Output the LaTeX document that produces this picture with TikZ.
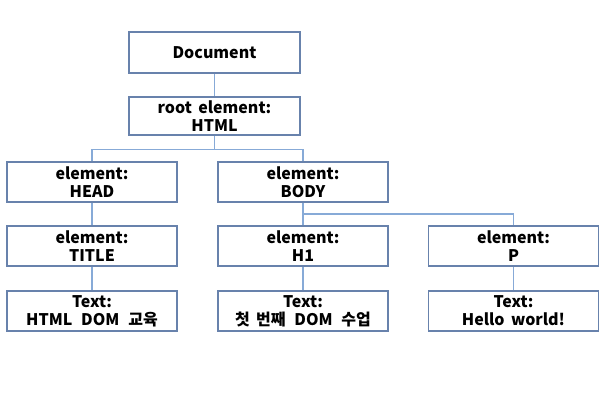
\documentclass[tikz,border=0pt]{standalone}
\usepackage{fontspec}
\setmainfont{Noto Sans CJK KR}
\definecolor{boxline}{RGB}{104,130,172}
\definecolor{connline}{RGB}{135,170,215}
\newcommand\domnodefont{\fontsize{16}{18}\selectfont\bfseries\spaceskip=0.4em\relax}
\begin{document}
\begin{tikzpicture}[x=1pt,y=-1pt,
  domnode/.style={draw=boxline, line width=1.3pt, fill=white, minimum width=170pt,
    minimum height=40pt, inner sep=0pt, align=center, font=\domnodefont},
  conn/.style={draw=connline, line width=1.6pt}]
\useasboundingbox (0,0) rectangle (600,416);
\coordinate (bus1) at (214.5,149.5);
\coordinate (bus2) at (303,214);
\node[domnode, minimum width=171pt, minimum height=41pt] (doc) at (214.5,52.5) {Document};
\node[domnode, minimum width=171pt, minimum height=38pt] (root) at (214.5,116) {root element:\\HTML};
\node[domnode] (head) at (92,182) {element:\\HEAD};
\node[domnode] (body) at (303,182) {element:\\BODY};
\node[domnode] (title) at (92,246) {element:\\TITLE};
\node[domnode] (h1) at (303,246) {element:\\H1};
\node[domnode] (p) at (513.5,246) {element:\\P};
\node[domnode] (t1) at (92,311) {Text:\\HTML\hspace{0.15em} DOM\hspace{0.15em} 교육};
\node[domnode] (t2) at (303,311) {Text:\\첫 번째\hspace{0.15em} DOM\hspace{0.15em} 수업};
\node[domnode] (t3) at (513.5,311) {Text:\\Hello world!};
\draw[conn] (doc.south) -- (root.north);
\draw[conn] (root.south) -- (bus1) -| (head.north);
\draw[conn] (bus1) -| (body.north);
\draw[conn] (head.south) -- (title.north);
\draw[conn] (body.south) -- (h1.north);
\draw[conn] (bus2) -| (p.north);
\draw[conn] (title.south) -- (t1.north);
\draw[conn] (h1.south) -- (t2.north);
\draw[conn] (p.south) -- (t3.north);
\end{tikzpicture}
\end{document}
